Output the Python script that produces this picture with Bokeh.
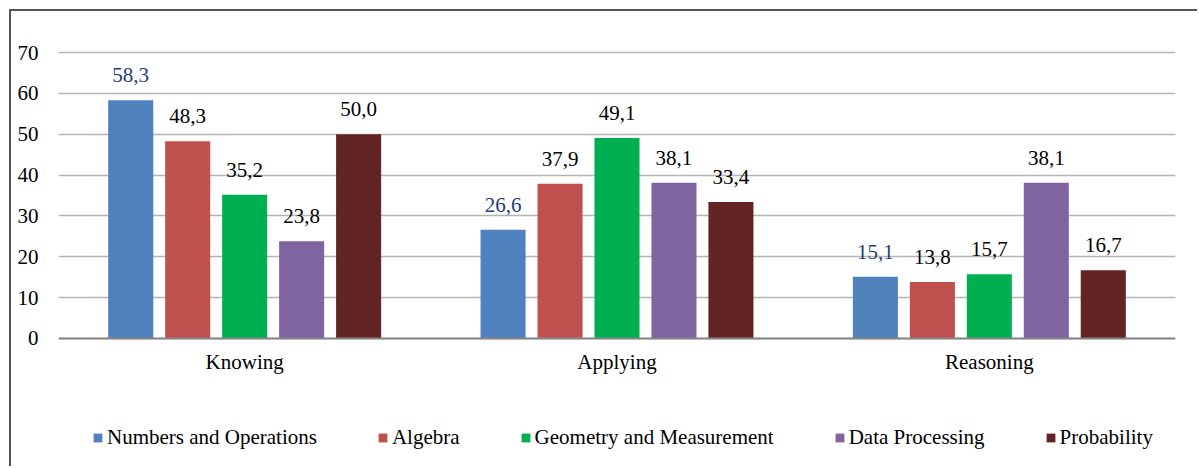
from bokeh.plotting import figure
from bokeh.models import ColumnDataSource, FactorRange, Range1d, Legend, LegendItem, FixedTicker, Spacer
from bokeh.layouts import column, row
from bokeh.transform import dodge
from bokeh.core.properties import value
from bokeh.embed import file_html
from bokeh.resources import INLINE

categories = ["Knowing", "Applying", "Reasoning"]
series_names = ["Numbers and Operations", "Algebra", "Geometry and Measurement", "Data Processing", "Probability"]
numbers_ops = [58.3, 26.6, 15.1]
algebra = [48.3, 37.9, 13.8]
geometry = [35.2, 49.1, 15.7]
data_proc = [23.8, 38.1, 38.1]
probability = [50.0, 33.4, 16.7]
y_ticks = [0, 10, 20, 30, 40, 50, 60, 70]

series_values = [numbers_ops, algebra, geometry, data_proc, probability]
colors = ["#4F81BD", "#C0504D", "#00B050", "#8064A2", "#632523"]
label_colors = ["#1F3D7A", "#000000", "#000000", "#000000", "#000000"]
offsets = [-0.306, -0.153, 0.0, 0.153, 0.306]
FONT = "Liberation Serif"

# frame extends below the zero line so the legend can sit inside it
p = figure(x_range=FactorRange(*categories), y_range=Range1d(-31.33, 70.49),
           width=1188, height=457, output_backend="svg", toolbar_location=None,
           min_border_left=47, min_border_top=39, min_border_right=24, min_border_bottom=2)
p.styles = {"border-top": "2px solid #555555", "border-left": "2px solid #555555"}
p.outline_line_color = None

items = []
for name, vals, col, lcol, off in zip(series_names, series_values, colors, label_colors, offsets):
    src = ColumnDataSource(dict(cat=categories, val=vals,
                                lbl=[f"{v:.1f}".replace(".", ",") for v in vals]))
    r = p.vbar(x=dodge("cat", off, range=p.x_range), top="val", bottom=0, width=0.121,
               source=src, fill_color=col, line_color=None)
    p.text(x=dodge("cat", off, range=p.x_range), y="val", text="lbl", source=src,
           y_offset=-25, text_align="center", text_baseline="alphabetic",
           text_font=value(FONT), text_font_size="21px", text_color=lcol)
    items.append(LegendItem(label=name, renderers=[r]))

legend = Legend(items=items, orientation="horizontal", location=(34, 16),
                glyph_width=11, glyph_height=11, label_standoff=4, spacing=60,
                padding=5, margin=0, border_line_color=None, background_fill_alpha=0,
                label_text_font=FONT, label_text_font_size="21px", label_text_color="#000000")
p.add_layout(legend)

p.xgrid.grid_line_color = None
p.ygrid.grid_line_color = "#B4B4B4"
p.ygrid.grid_line_width = 1.5
p.ygrid.ticker = FixedTicker(ticks=y_ticks)

p.yaxis.ticker = FixedTicker(ticks=y_ticks)
p.yaxis.axis_line_color = None
p.yaxis.major_tick_line_color = None
p.yaxis.minor_tick_line_color = None
p.yaxis.major_label_standoff = 14
p.yaxis.major_label_text_font = FONT
p.yaxis.major_label_text_font_size = "21px"
p.yaxis.major_label_text_color = "#000000"

p.xaxis.fixed_location = 0
p.xaxis.axis_line_color = "#868686"
p.xaxis.axis_line_width = 2
p.xaxis.major_tick_line_color = None
p.xaxis.minor_tick_line_color = None
p.xaxis.major_label_standoff = 6
p.xaxis.major_label_text_font = FONT
p.xaxis.major_label_text_font_size = "21px"
p.xaxis.major_label_text_color = "#000000"

root = column(Spacer(height=9), row(Spacer(width=9), p))
open("out.html", "w").write(file_html(root, INLINE))
